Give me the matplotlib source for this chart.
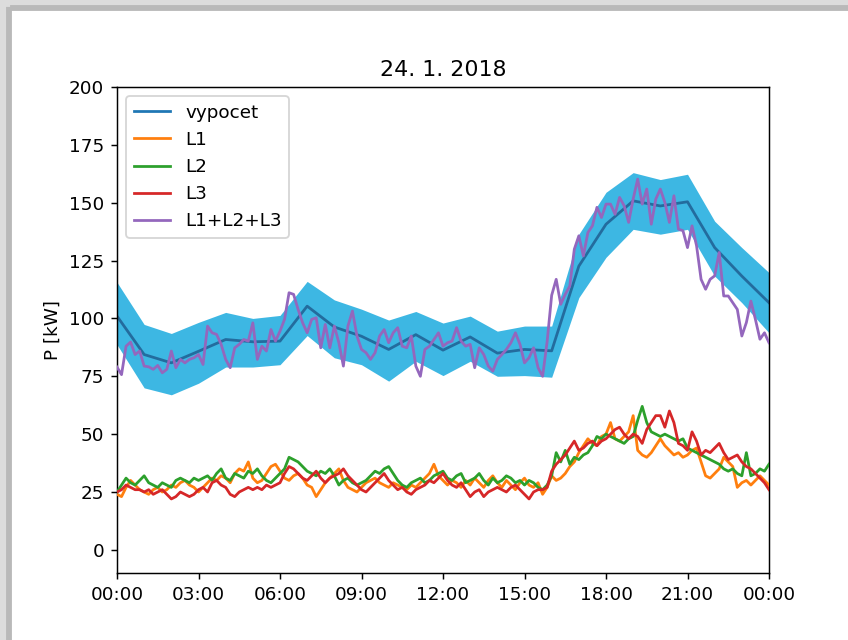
import datetime as dt
import matplotlib
matplotlib.use("Agg")
import matplotlib.pyplot as plt
import matplotlib.dates as mdates
from matplotlib.lines import Line2D
from matplotlib.patches import Rectangle

day = dt.datetime(2018, 1, 24)

# hourly model with its tolerance band
vypocet = [101, 84.4, 80.8, 85.8, 90.9, 89.9, 90.2, 105.3, 96.3, 92.3, 86.6, 93, 86.3,
           92, 85, 86.6, 86, 122.6, 140.7, 150.8, 148.6, 150.4, 130.6, 118.3, 106.8]
vypocet_hi = [115.6, 97.4, 93.5, 98.3, 102.6, 100, 101.3, 116, 108, 104, 99.3, 103, 98,
              101, 94.5, 96.7, 96.7, 136.4, 154.5, 163, 160, 162.3, 142, 130.6, 119.8]
vypocet_lo = [88.7, 70, 67, 72, 79, 79, 80, 92.6, 83, 80, 72.9, 81.5, 75.3,
              81.5, 75, 75.3, 74.6, 109, 126.4, 138.5, 136.4, 138.5, 118.3, 106.8, 93.8]

# measured phases, 10 min samples
L1 = [24, 23, 27, 30, 28, 26, 25, 24, 26, 27, 25, 26, 28, 27, 29, 30, 28, 27,
      25, 27, 29, 31, 30, 32, 31, 29, 33, 35, 34, 38, 31, 29, 30, 33, 36, 37,
      34, 31, 30, 32, 33, 31, 28, 27, 23, 26, 29, 31, 33, 35, 30, 27, 26, 25,
      27, 29, 30, 31, 29, 28, 27, 29, 28, 27, 26, 28, 27, 29, 31, 33, 37, 32,
      30, 28, 30, 29, 27, 30, 28, 31, 29, 27, 30, 32, 29, 27, 30, 28, 26, 29,
      31, 28, 27, 29, 24, 27, 32, 30, 31, 33, 36, 38, 42, 45, 48, 46, 45, 49,
      50, 55, 48, 47, 49, 51, 58, 43, 41, 40, 42, 45, 48, 45, 43, 41, 42, 40,
      41, 43, 44, 38, 32, 31, 33, 35, 40, 38, 36, 27, 29, 30, 28, 30, 32, 30, 28]
L2 = [25, 28, 31, 29, 28, 30, 32, 29, 28, 27, 29, 28, 27, 30, 31, 30, 29, 31,
      30, 31, 32, 30, 33, 35, 31, 30, 33, 32, 31, 34, 33, 35, 32, 30, 29, 31,
      33, 35, 40, 39, 38, 36, 34, 33, 32, 34, 33, 35, 32, 28, 30, 31, 29, 28,
      29, 30, 32, 34, 33, 35, 36, 33, 30, 28, 27, 29, 30, 31, 29, 30, 32, 33,
      34, 31, 30, 32, 33, 29, 30, 31, 33, 30, 28, 31, 29, 30, 32, 31, 29, 30,
      28, 30, 29, 27, 26, 28, 32, 42, 38, 43, 37, 40, 39, 41, 42, 45, 49, 48,
      50, 49, 48, 47, 46, 48, 49, 56, 62, 55, 51, 50, 49, 50, 49, 48, 47, 48,
      44, 43, 42, 41, 40, 39, 38, 37, 35, 34, 35, 33, 32, 42, 32, 33, 35, 34, 37]
L3 = [25, 26, 28, 27, 26, 26, 25, 26, 24, 25, 26, 24, 22, 23, 25, 24, 23, 24,
      26, 27, 25, 29, 30, 28, 27, 24, 23, 25, 26, 27, 26, 27, 26, 28, 27, 28,
      29, 33, 36, 35, 33, 31, 30, 32, 34, 31, 29, 31, 32, 33, 35, 32, 30, 28,
      26, 25, 27, 29, 31, 33, 30, 28, 26, 27, 25, 24, 26, 27, 28, 30, 29, 31,
      33, 30, 28, 27, 29, 26, 23, 25, 26, 23, 25, 26, 27, 26, 25, 27, 28, 26,
      24, 22, 25, 26, 26, 27, 34, 37, 39, 41, 44, 47, 43, 44, 46, 47, 45, 47,
      48, 50, 52, 53, 50, 48, 50, 49, 46, 52, 55, 58, 58, 53, 60, 55, 46, 45,
      43, 51, 47, 41, 43, 42, 44, 46, 42, 39, 40, 41, 38, 36, 35, 33, 31, 29, 26]
soucet = [79, 75.7, 88, 89.8, 84.4, 85.9, 79.4, 79.1, 78, 79.7, 76.5, 78,
          85.9, 78.7, 82.3, 80.8, 82.3, 83, 84.4, 80.1, 96.7, 93.8, 93.1, 88.8,
          82.3, 78.7, 87.3, 88.8, 90.9, 90.2, 98.1, 82.3, 88, 85.9, 95.2, 90.2,
          94.5, 99.6, 111.1, 110.4, 103.9, 98.1, 93.8, 99.6, 100.3, 87.3, 97.4, 87.3,
          96.7, 89.5, 79.4, 96.7, 103.2, 92.4, 86.6, 85.2, 82.3, 85.2, 92.4, 95.2,
          89.5, 93.8, 96, 88, 87.3, 92.4, 79.4, 75, 86.6, 88, 90.9, 93.8,
          88, 89.5, 90.2, 96, 90.2, 88, 88.8, 78.7, 87.3, 84.4, 79.4, 77.2,
          82.3, 84.4, 86.6, 89.5, 93.8, 88.8, 80.8, 83, 87.3, 78.7, 75, 90,
          110, 116.9, 106.1, 110.4, 114, 129.9, 135.7, 127, 137.1, 140, 148, 143.6,
          149.4, 149.4, 145, 152.3, 148.7, 141.5, 151.6, 160.2, 149.4, 155.9, 140.7, 151.6,
          155.9, 150.1, 141.5, 153, 138.6, 137.9, 130.6, 140, 131.4, 116.9, 112.6, 116.9,
          118.4, 128.5, 109.7, 109.7, 106.8, 103.9, 92.4, 98.2, 107.5, 99.6, 91, 93.8, 89.5]

t_hour = [day + dt.timedelta(hours=i) for i in range(len(vypocet))]
t_10 = [day + dt.timedelta(minutes=10 * i) for i in range(len(L1))]

fig = plt.figure(figsize=(848 / 132.5, 640 / 132.5), dpi=132.5)
ax = fig.add_axes([117 / 848, 67 / 640, 652 / 848, 486 / 640])

ax.fill_between(t_hour, vypocet_lo, vypocet_hi, color="#3db7e3", lw=0, zorder=1)
ax.plot(t_hour, vypocet, color="#236c9e", zorder=2)
ax.plot(t_10, L1, color="tab:orange", zorder=3)
ax.plot(t_10, L2, color="tab:green", zorder=3)
ax.plot(t_10, L3, color="tab:red", zorder=3)
ax.plot(t_10, soucet, color="tab:purple", zorder=3)

handles = [Line2D([], [], color=c) for c in
           ["tab:blue", "tab:orange", "tab:green", "tab:red", "tab:purple"]]
ax.legend(handles, ["vypocet", "L1", "L2", "L3", "L1+L2+L3"], loc="upper left")

ax.set_xlim(day, day + dt.timedelta(days=1))
ax.set_ylim(-10, 200)
ax.set_yticks(range(0, 201, 25))
ax.xaxis.set_major_locator(mdates.HourLocator(interval=3))
ax.xaxis.set_major_formatter(mdates.DateFormatter("%H:%M"))
ax.set_ylabel("P [kW]")
ax.set_title("24. 1. 2018")

# grey shadow strips along the left and top edge
fig.patches.append(Rectangle((0, 0), 7 / 848, 1, transform=fig.transFigure,
                             color="#dcdcdc", zorder=0))
fig.patches.append(Rectangle((7 / 848, 0), 4 / 848, 1, transform=fig.transFigure,
                             color="#b9b9b9", zorder=0))
fig.patches.append(Rectangle((0, 1 - 6 / 640), 1, 6 / 640, transform=fig.transFigure,
                             color="#dcdcdc", zorder=0))
fig.patches.append(Rectangle((11 / 848, 1 - 10 / 640), 1, 4 / 640, transform=fig.transFigure,
                             color="#b9b9b9", zorder=0))

fig.savefig("out.png", dpi=132.5)
